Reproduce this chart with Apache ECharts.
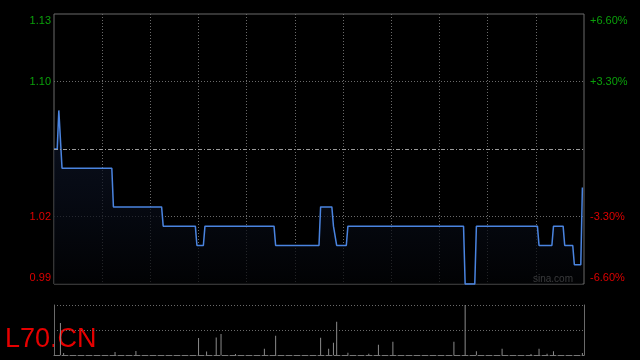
<!DOCTYPE html>
<html><head><meta charset="utf-8">
<script src="https://cdn.jsdelivr.net/npm/echarts@6/dist/echarts.min.js"></script>
<style>html,body{margin:0;padding:0;background:#000;}#c{width:640px;height:360px;}</style>
</head><body><div id="c"></div>
<script>
const symbolName = 'L70.CN';
const watermark = 'sina.com';
const prevClose = 1.06;
const limitPct = 0.066;
const sessionMinutes = 330;
const gridMinutes = 30;

// price breakpoints (minute index from open, price)
const priceTimes  = [0, 2, 3, 4, 5, 36, 37, 67, 68, 88, 89, 93, 94, 137, 138, 165, 166, 173, 174, 175, 176, 182, 183, 255, 256, 262, 263, 301, 302, 310, 311, 317, 318, 323, 324, 328, 329];
const priceValues = [1.06, 1.06, 1.08, 1.08, 1.05, 1.05, 1.03, 1.03, 1.02, 1.02, 1.01, 1.01, 1.02, 1.02, 1.01, 1.01, 1.03, 1.03, 1.02, 1.02, 1.01, 1.01, 1.02, 1.02, 0.99, 0.99, 1.02, 1.02, 1.01, 1.01, 1.02, 1.02, 1.01, 1.01, 1.00, 1.00, 1.04];

// volume per minute (relative units)
const volTimes  = [4, 6, 38, 51, 90, 95, 101, 104, 113, 131, 138, 166, 171, 174, 176, 183, 196, 202, 211, 249, 256, 263, 279, 297, 302, 307, 311, 329];
const volValues = [32, 2, 3, 4, 17, 3.5, 17.5, 21, 1, 6.3, 19.3, 17.3, 6.3, 12.3, 33.3, 2.3, 1.3, 10.3, 13.3, 13.3, 50, 3.7, 6.3, 1, 6.3, 1.3, 3.7, 2];

const leftTickLabels  = ['0.99', '1.02', '', '1.10', '1.13'];
const rightTickLabels = ['-6.60%', '-3.30%', '', '+3.30%', '+6.60%'];

const yMin = prevClose * (1 - limitPct);
const yMax = prevClose * (1 + limitPct);
const yStep = prevClose * limitPct / 2;
const volMax = Math.max.apply(null, volValues);

const UP = '#0aa00a', DOWN = '#dd0000';
const labelFont = "'Liberation Sans',Arial,sans-serif";
const gridGray = '#6a6a6a';

function tickIndex(v) { return Math.round((v - yMin) / yStep); }
function tickText(arr) {
  return function (v) {
    const i = tickIndex(v);
    const t = arr[i] || '';
    if (i === 0) return t + '\n';
    if (i === arr.length - 1) return '\n' + t;
    return t;
  };
}
function tickColor(v) { return tickIndex(v) >= 2 ? UP : DOWN; }

const chart = echarts.init(document.getElementById('c'), null, {renderer: 'canvas'});
chart.setOption({
  backgroundColor: '#000',
  animation: false,
  grid: [
    {left: 54, right: 56, top: 14, height: 270, show: true, borderColor: gridGray, borderWidth: 1, backgroundColor: 'transparent'},
    {left: 54, right: 56, top: 305, height: 50, show: false}
  ],
  xAxis: [
    {type: 'value', gridIndex: 0, min: 0, max: sessionMinutes, interval: gridMinutes,
     axisLine: {show: false}, axisTick: {show: false}, axisLabel: {show: false},
     splitLine: {show: true, showMinLine: false, showMaxLine: false, lineStyle: {color: gridGray, type: [1, 2], width: 1}}},
    {type: 'value', gridIndex: 1, min: 0, max: sessionMinutes, interval: gridMinutes,
     axisLine: {show: true, lineStyle: {color: '#777', type: [6, 2], width: 1}}, axisTick: {show: false}, axisLabel: {show: false},
     splitLine: {show: false}}
  ],
  yAxis: [
    {type: 'value', gridIndex: 0, position: 'left', min: yMin, max: yMax, interval: yStep,
     axisLine: {show: false}, axisTick: {show: false},
     axisLabel: {show: true, margin: 3, formatter: tickText(leftTickLabels), color: tickColor, fontSize: 11, lineHeight: 13, fontFamily: labelFont},
     splitLine: {show: true, showMinLine: false, showMaxLine: false, lineStyle: {color: [gridGray, 'transparent', gridGray], type: [1, 2], width: 1}}},
    {type: 'value', gridIndex: 0, position: 'right', min: yMin, max: yMax, interval: yStep,
     axisLine: {show: false}, axisTick: {show: false},
     axisLabel: {show: true, margin: 6, formatter: tickText(rightTickLabels), color: tickColor, fontSize: 11, lineHeight: 13, fontFamily: labelFont},
     splitLine: {show: false}},
    {type: 'value', gridIndex: 1, position: 'left', min: 0, max: volMax, interval: volMax / 2,
     axisLine: {show: true, lineStyle: {color: gridGray, width: 1}}, axisTick: {show: false}, axisLabel: {show: false},
     splitLine: {show: true, showMinLine: false, showMaxLine: true, lineStyle: {color: gridGray, type: [1, 2], width: 1}}},
    {type: 'value', gridIndex: 1, position: 'right', min: 0, max: volMax, interval: volMax / 2,
     axisLine: {show: true, lineStyle: {color: gridGray, width: 1}}, axisTick: {show: false}, axisLabel: {show: false},
     splitLine: {show: false}}
  ],
  series: [
    {type: 'line', xAxisIndex: 0, yAxisIndex: 0,
     data: priceTimes.map((t, i) => [t, priceValues[i]]),
     symbol: 'none', clip: false,
     lineStyle: {color: '#4a84e0', width: 1.5},
     areaStyle: {origin: 'start', color: new echarts.graphic.LinearGradient(0, 0, 0, 1, [
       {offset: 0, color: '#0f182c'}, {offset: 0.5, color: '#090e1b'}, {offset: 1, color: '#020305'}])},
     markLine: {silent: true, symbol: 'none', label: {show: false},
       lineStyle: {color: '#9a9a9a', type: [4, 2, 1, 2], width: 1},
       data: [{yAxis: prevClose}]}
    },
    {type: 'bar', xAxisIndex: 1, yAxisIndex: 2,
     data: volTimes.map((t, i) => [t, volValues[i]]),
     barWidth: 1, itemStyle: {color: '#8a8a8a'}}
  ],
  graphic: [
    {type: 'text', x: 573, y: 279, silent: true,
     style: {text: watermark, fill: '#b4b4b4', font: "10px " + labelFont, align: 'right', verticalAlign: 'middle'}},
    {type: 'text', x: 5, y: 340, silent: true,
     style: {text: symbolName, fill: '#e60000', font: "27px 'Liberation Sans',Arial,sans-serif", align: 'left', verticalAlign: 'middle'}}
  ]
});
</script>
</body></html>
